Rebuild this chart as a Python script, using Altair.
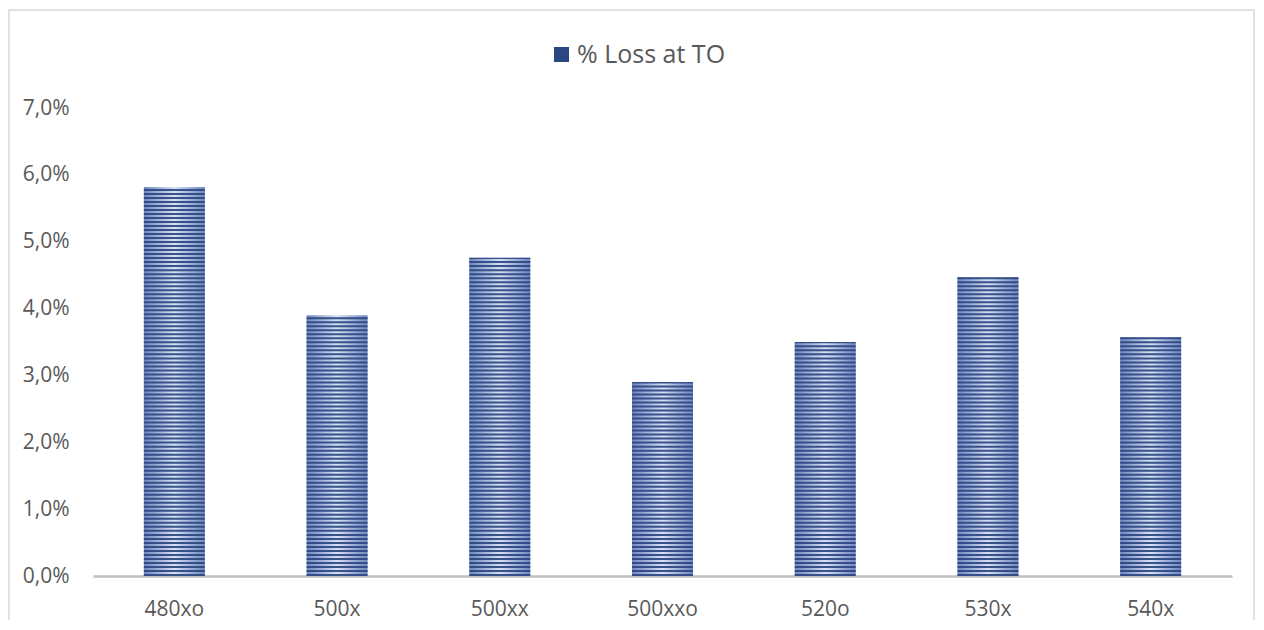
import altair as alt
import pandas as pd

categories = ["480xo", "500x", "500xx", "500xxo", "520o", "530x", "540x"]
values = [0.0582, 0.0390, 0.0476, 0.0290, 0.0350, 0.0447, 0.0357]
series_name = "% Loss at TO"

df = pd.DataFrame({"cat": categories, "value": values, "series": [series_name] * len(categories)})

FONT = "Open Sans"
TXT = "#595959"

xenc = alt.X("cat:N", sort=categories, title=None,
             scale=alt.Scale(paddingInner=0.625, paddingOuter=0.3125),
             axis=alt.Axis(labelAngle=0, ticks=False, domainColor="#BFBFBF", domainWidth=2.5,
                           labelPadding=22, labelFontSize=21, labelColor=TXT, labelFont=FONT))
yscale = alt.Scale(domain=[0, 0.07], nice=False)

base = alt.Chart(df)

bars = base.mark_bar(
    fill=alt.Gradient(gradient="linear", x1=0, x2=1, y1=0, y2=0,
                      stops=[alt.GradientStop(offset=0, color="#6F87BE"),
                             alt.GradientStop(offset=0.5, color="#D6E0F4"),
                             alt.GradientStop(offset=1, color="#6F87BE")])
).encode(
    x=xenc,
    y=alt.Y("value:Q", scale=yscale, title=None,
            axis=alt.Axis(values=[0, 0.01, 0.02, 0.03, 0.04, 0.05, 0.06, 0.07],
                          labelExpr="replace(format(datum.value, '.1%'), '.', ',')",
                          ticks=False, domain=False, grid=False, labelPadding=24,
                          labelFontSize=21, labelColor=TXT, labelFont=FONT)),
)

stripes = base.transform_calculate(
    s0="sequence(0, datum.value, 0.0006)"
).transform_flatten(["s0"]).transform_calculate(
    s1="min(datum.s0 + 0.0003, datum.value)"
).mark_bar(fillOpacity=0.92).encode(
    x=xenc,
    y=alt.Y("s0:Q", scale=yscale),
    y2="s1:Q",
    fill=alt.Fill("series:N", scale=alt.Scale(range=["#2C4682"]),
                  legend=alt.Legend(title=None, orient="none", legendX=456, legendY=-66,
                                    symbolType="square", symbolSize=225, symbolOpacity=1,
                                    labelOffset=3,
                                    labelFontSize=25, labelColor=TXT, labelFont=FONT)),
)

border = alt.Chart(alt.Data(values=[{}])).mark_rect(
    filled=False, stroke="#D9D9D9", strokeWidth=1.5
).encode(x=alt.value(-84), x2=alt.value(1161), y=alt.value(-98), y2=alt.value(560))

chart = alt.layer(border, bars, stripes).properties(
    width=1139, height=468,
    autosize=alt.AutoSizeParams(type="none"),
    padding={"left": 85, "top": 100, "right": 24, "bottom": 44},
    background="white",
).configure_view(stroke="transparent", strokeWidth=0)

chart.save("out.html", embed_options={"renderer": "svg", "actions": False})
